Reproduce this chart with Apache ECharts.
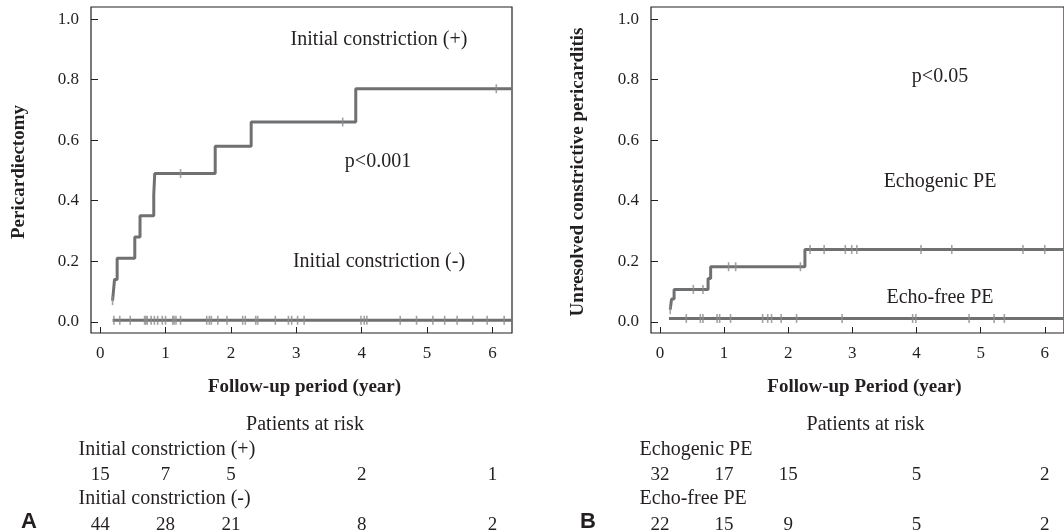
<!DOCTYPE html>
<html><head><meta charset="utf-8">
<script src="https://cdn.jsdelivr.net/npm/echarts@6/dist/echarts.min.js"></script>
<style>html,body{margin:0;padding:0;background:#fff}#c{width:1064px;height:532px}</style>
</head><body><div id="c"></div>
<script>
// ---- data ----
const xTicks = [0, 1, 2, 3, 4, 5, 6];
const yTicks = [0, 0.2, 0.4, 0.6, 0.8, 1.0];

// Panel A: Initial constriction (+) step curve (event time, cumulative value)
const aPlusX = [0.19, 0.22, 0.26, 0.53, 0.61, 0.82, 0.835, 1.76, 2.31, 3.91, 6.3];
const aPlusY = [0.07, 0.14, 0.21, 0.28, 0.35, 0.42, 0.49, 0.58, 0.66, 0.77, 0.77];
const aPlusCensor = [0.19, 1.23, 3.71, 6.06];
// Panel A: Initial constriction (-)
const aMinusX = [0.19, 6.3];
const aMinusY = [0.005, 0.005];
const aMinusCensor = [0.21, 0.30, 0.46, 0.68, 0.70, 0.72, 0.78, 0.83, 0.88, 0.95, 1.00, 1.11, 1.13, 1.16, 1.23,
  1.63, 1.67, 1.70, 1.80, 1.94, 2.18, 2.22, 2.38, 2.41, 2.68, 2.88, 2.93, 3.02, 3.12, 3.99, 4.04, 4.08,
  4.59, 4.84, 5.09, 5.27, 5.46, 5.70, 5.92, 6.18];

// Panel B: Echogenic PE
const bEchoX = [0.16, 0.18, 0.22, 0.75, 0.79, 2.26, 6.3];
const bEchoY = [0.04, 0.075, 0.107, 0.143, 0.182, 0.239, 0.239];
const bEchoCensor = [0.16, 0.52, 0.67, 1.07, 1.18, 2.19, 2.34, 2.56, 2.89, 2.99, 3.07, 4.07, 4.55, 5.66, 6.0];
// Panel B: Echo-free PE
const bFreeX = [0.14, 6.3];
const bFreeY = [0.011, 0.011];
const bFreeCensor = [0.41, 0.63, 0.67, 0.89, 0.93, 1.10, 1.60, 1.68, 1.74, 1.89, 2.13, 2.84, 3.94, 3.99,
  4.82, 5.21, 5.37];

// Patients at risk
const riskTimes = [0, 1, 2, 4, 6];
const riskAPlus = [15, 7, 5, 2, 1];
const riskAMinus = [44, 28, 21, 8, 2];
const riskBEcho = [32, 17, 15, 5, 2];
const riskBFree = [22, 15, 9, 5, 2];

// ---- helpers ----
function zip(xs, ys) { return xs.map((x, i) => [x, ys[i]]); }
function valueAt(xs, ys, t) { let v = ys[0]; for (let i = 0; i < xs.length; i++) if (xs[i] <= t) v = ys[i]; return v; }
function censorPts(list, xs, ys) { return list.map(t => [t, valueAt(xs, ys, t)]); }

const SERIF = '"Liberation Serif", "DejaVu Serif", serif';
const TXT = '#231f20';
const LINE = '#6f7072';
const CEN = '#8c8c8c';
const XMIN = -0.14, XMAX = 6.3, YMIN = -0.037, YMAX = 1.04;

const chart = echarts.init(document.getElementById('c'), null, { renderer: 'canvas' });

function plotX(gi) {
  return { gridIndex: gi, type: 'value', min: XMIN, max: XMAX,
    axisLine: { show: false, onZero: false }, splitLine: { show: false },
    axisTick: { show: true, inside: true, length: 6, customValues: xTicks, lineStyle: { color: TXT, width: 1 } },
    axisLabel: { customValues: xTicks, margin: 12, fontFamily: SERIF, fontSize: 17, color: TXT } };
}
function plotY(gi) {
  return { gridIndex: gi, type: 'value', min: YMIN, max: YMAX,
    axisLine: { show: false, onZero: false }, splitLine: { show: false },
    axisTick: { show: true, inside: true, length: 7, customValues: yTicks, lineStyle: { color: TXT, width: 1 } },
    axisLabel: { customValues: yTicks, margin: 12, fontFamily: SERIF, fontSize: 17, color: TXT,
      formatter: v => v.toFixed(1) } };
}
function hiddenX(gi) { return { gridIndex: gi, type: 'value', min: XMIN, max: XMAX, show: false }; }
function hiddenY(gi) { return { gridIndex: gi, type: 'value', min: 0, max: 1, inverse: true, show: false }; }

function stepSeries(xi, xs, ys) {
  return { type: 'line', xAxisIndex: xi, yAxisIndex: xi, data: zip(xs, ys), step: 'end',
    showSymbol: false, symbol: 'none', lineStyle: { color: LINE, width: 3 }, z: 2, silent: true };
}
function censorSeries(xi, list, xs, ys) {
  return { type: 'scatter', xAxisIndex: xi, yAxisIndex: xi, data: censorPts(list, xs, ys),
    symbol: 'rect', symbolSize: [1.6, 9], itemStyle: { color: CEN }, z: 3, silent: true };
}
function riskSeries(xi, row, vals) {
  return { type: 'scatter', xAxisIndex: xi, yAxisIndex: xi,
    data: riskTimes.map((t, i) => [t, row, vals[i]]),
    symbolSize: 1, itemStyle: { color: '#ffffff', opacity: 1 }, silent: true, z: 5,
    label: { show: true, position: 'inside', formatter: p => String(p.value[2]),
      fontFamily: SERIF, fontSize: 19, color: TXT, opacity: 1, textBorderWidth: 0,
      align: 'center', verticalAlign: 'middle' } };
}

function t(x, y, s, style, extra) {
  const e = { type: 'text', x: x, y: y, style: Object.assign({ text: s, font: '20px ' + SERIF, fill: TXT,
    align: 'center', verticalAlign: 'middle' }, style || {}) };
  return Object.assign(e, extra || {});
}

const option = {
  animation: false,
  backgroundColor: '#ffffff',
  grid: [
    { left: 91, top: 7, width: 421, height: 326, show: true, borderColor: TXT, borderWidth: 1.2, backgroundColor: 'transparent' },
    { left: 651, top: 7, width: 421, height: 326, show: true, borderColor: TXT, borderWidth: 1.2, backgroundColor: 'transparent' },
    { left: 91, top: 474.6, width: 421, height: 50.1 },
    { left: 651, top: 474.6, width: 421, height: 50.1 }
  ],
  xAxis: [plotX(0), plotX(1), hiddenX(2), hiddenX(3)],
  yAxis: [plotY(0), plotY(1), hiddenY(2), hiddenY(3)],
  series: [
    stepSeries(0, aPlusX, aPlusY),
    stepSeries(0, aMinusX, aMinusY),
    censorSeries(0, aPlusCensor, aPlusX, aPlusY),
    censorSeries(0, aMinusCensor, aMinusX, aMinusY),
    stepSeries(1, bEchoX, bEchoY),
    stepSeries(1, bFreeX, bFreeY),
    censorSeries(1, bEchoCensor, bEchoX, bEchoY),
    censorSeries(1, bFreeCensor, bFreeX, bFreeY),
    riskSeries(2, 0, riskAPlus),
    riskSeries(2, 1, riskAMinus),
    riskSeries(3, 0, riskBEcho),
    riskSeries(3, 1, riskBFree)
  ],
  graphic: [
    t(379, 40, 'Initial constriction (+)'),
    t(378, 162, 'p<0.001'),
    t(379, 262, 'Initial constriction (-)'),
    t(940, 77, 'p<0.05'),
    t(940, 182, 'Echogenic PE'),
    t(940, 298, 'Echo-free PE'),
    t(304.5, 387, 'Follow-up period (year)', { font: 'bold 19px ' + SERIF }),
    t(864.4, 387, 'Follow-up Period (year)', { font: 'bold 19px ' + SERIF }),
    t(0, 0, 'Pericardiectomy', { font: 'bold 19px ' + SERIF }, { x: 19.5, y: 172, rotation: Math.PI / 2 }),
    t(0, 0, 'Unresolved constrictive pericarditis', { font: 'bold 19px ' + SERIF }, { x: 578, y: 172, rotation: Math.PI / 2 }),
    t(305, 425, 'Patients at risk'),
    t(865.5, 425, 'Patients at risk'),
    t(78.5, 450, 'Initial constriction (+)', { align: 'left' }),
    t(78.5, 499, 'Initial constriction (-)', { align: 'left' }),
    t(639.6, 450, 'Echogenic PE', { align: 'left' }),
    t(639.6, 499, 'Echo-free PE', { align: 'left' }),
    t(29, 522, 'A', { font: 'bold 22px "Liberation Sans", Arial, sans-serif' }),
    t(588, 522, 'B', { font: 'bold 22px "Liberation Sans", Arial, sans-serif' })
  ]
};
chart.setOption(option);
</script>
</body></html>
